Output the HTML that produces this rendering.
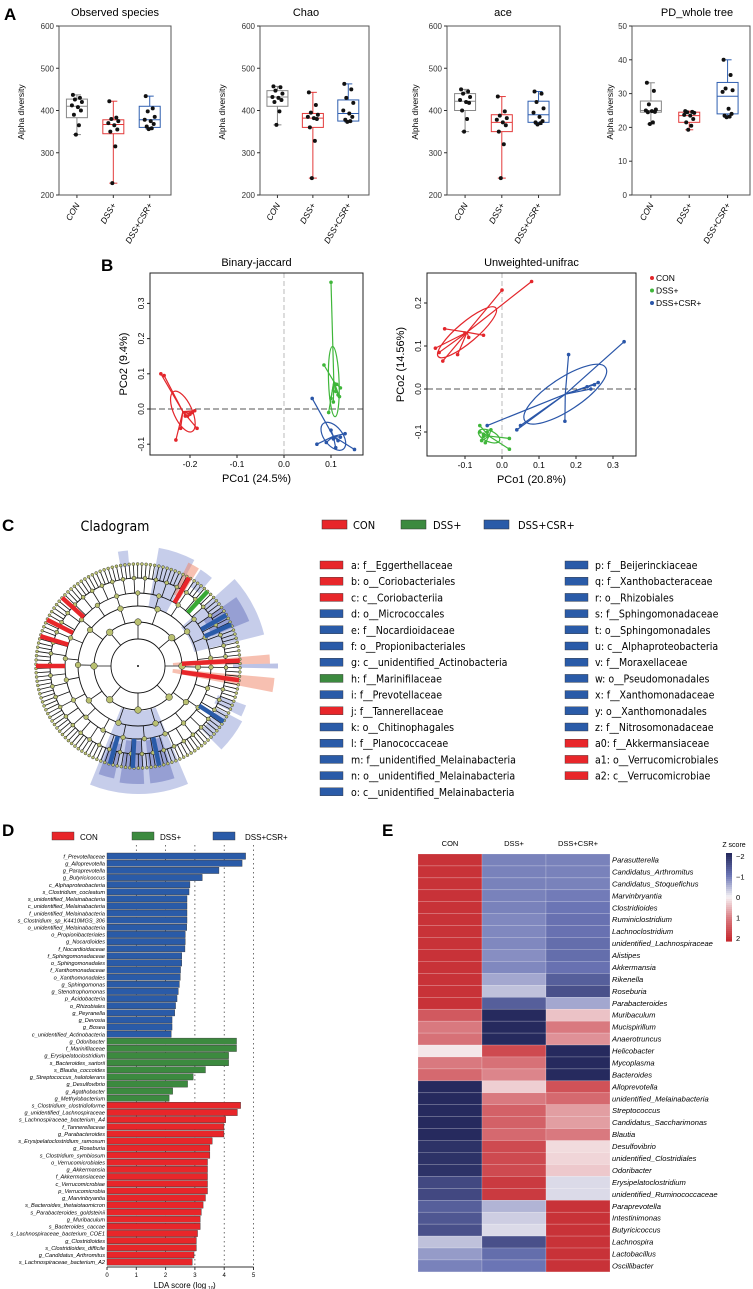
<!DOCTYPE html>
<html><head><meta charset="utf-8"><style>
html,body{margin:0;padding:0;background:#fff;}
svg{display:block;}
text{font-family:"Liberation Sans",sans-serif;}
.cl{font-family:"DejaVu Sans Condensed","DejaVu Sans","Liberation Sans",sans-serif;}
</style></head><body>
<svg id="fig" xmlns="http://www.w3.org/2000/svg" width="753" height="1289" viewBox="0 0 753 1289">
<text x="4" y="20" font-size="17" font-weight="bold">A</text>
<text x="101" y="271" font-size="17" font-weight="bold">B</text>
<text x="2" y="531" font-size="17" font-weight="bold">C</text>
<text x="2" y="836" font-size="17" font-weight="bold">D</text>
<text x="382" y="836" font-size="17" font-weight="bold">E</text>
<g id="gA"></g>
<g id="gB"></g>
<g id="gC"></g>
<g id="gD"></g>
<g id="gE"></g>
</svg>
<script>
// ===== Panel A data =====
const aTitles=["Observed  species","Chao","ace","PD_whole  tree"];
const aGroups=["CON","DSS+","DSS+CSR+"];
const aMin=[200,200,200,0];
const aMax=[600,600,600,50];
const aTicks=[[200,300,400,500,600],[200,300,400,500,600],[200,300,400,500,600],[0,10,20,30,40,50]];
const obsPts=[[437,430,426,420,412,408,400,390,365,343],[422,383,380,375,370,365,355,350,315,228],[434,405,398,385,378,375,368,362,358,356]];
const chaoPts=[[457,455,447,440,432,430,425,420,398,366],[443,413,395,390,385,382,380,360,328,240],[463,450,430,418,400,393,385,378,375,373]];
const acePts=[[450,445,440,432,425,420,418,400,380,350],[433,398,388,382,378,372,365,350,320,240],[445,440,420,405,395,385,375,372,370,367]];
const pdPts=[[33.2,30.8,26.8,25.3,25,24.8,24.6,24.5,21.5,21],[24.8,24.6,24.5,24.3,23.7,23.5,22.5,21.5,20.5,19.3],[40,35.5,31.5,31,30.5,25.5,24,23.5,23.2,23]];
// box stats [q1, median, q3]
const obsBox=[[383,410,427],[345,367,378],[360,378,410]];
const chaoBox=[[410,432,447],[360,382,393],[375,393,425]];
const aceBox=[[400,422,440],[350,372,390],[372,390,422]];
const pdBox=[[24.5,25,27.8],[21.5,23.5,24.5],[24,29.2,33.3]];
const aPts=[obsPts,chaoPts,acePts,pdPts];
const aBox=[obsBox,chaoBox,aceBox,pdBox];

// ===== Panel B data =====
const bjCON=[[-0.262,0.10],[-0.255,0.095],[-0.23,-0.088],[-0.22,-0.055],[-0.21,-0.02],[-0.20,-0.015],[-0.195,-0.01],[-0.19,-0.005],[-0.185,-0.055],[-0.205,-0.02]];
const bjDSS=[[0.10,0.36],[0.085,0.125],[0.11,0.05],[0.12,0.06],[0.115,0.04],[0.105,0.02],[0.10,0.03],[0.095,-0.01],[0.112,0.07],[0.118,0.035]];
const bjCSR=[[0.06,0.03],[0.07,-0.10],[0.09,-0.095],[0.11,-0.11],[0.15,-0.115],[0.12,-0.08],[0.13,-0.07],[0.10,-0.06],[0.115,-0.09],[0.105,-0.085]];
const uuCON=[[0.08,0.25],[0.0,0.23],[-0.16,0.065],[-0.17,0.085],[-0.18,0.095],[-0.155,0.14],[-0.12,0.08],[-0.05,0.125],[-0.10,0.13],[-0.09,0.12]];
const uuDSS=[[-0.06,-0.085],[-0.05,-0.11],[-0.055,-0.12],[-0.04,-0.1],[0.02,-0.14],[0.02,-0.115],[-0.045,-0.125],[-0.05,-0.105],[-0.03,-0.095],[-0.06,-0.10]];
const uuCSR=[[0.33,0.11],[0.18,0.08],[0.17,-0.075],[0.26,0.015],[0.25,0.01],[-0.04,-0.085],[0.04,-0.095],[0.05,-0.085],[0.24,0.0],[0.23,0.005]];
const bjXTicks=[-0.2,-0.1,0.0,0.1];
const bjYTicks=[-0.1,0.0,0.1,0.2,0.3];
const uuXTicks=[-0.1,0.0,0.1,0.2,0.3];
const uuYTicks=[-0.1,0.0,0.1,0.2];

// ===== Panel D data =====
const ldaNames=["f_Prevotellaceae","g_Alloprevotella","g_Paraprevotella","g_Butyricicoccus","c_Alphaproteobacteria","s_Clostridium_cocleatum","s_unidentified_Melainabacteria","c_unidentified_Melainabacteria","f_unidentified_Melainabacteria","s_Clostridium_sp_K4410MGS_306","o_unidentified_Melainabacteria","o_Propionibacteriales","g_Nocardioides","f_Nocardioidaceae","f_Sphingomonadaceae","o_Sphingomonadales","f_Xanthomonadaceae","o_Xanthomonadales","g_Sphingomonas","g_Stenotrophomonas","p_Acidobacteria","o_Rhizobiales","g_Peyranella","g_Devosia","g_Bosea","c_unidentified_Actinobacteria",
"g_Odoribacter","f_Marinifilaceae","g_Erysipelatoclostridium","s_Bacteroides_sartorii","s_Blautia_coccoides","g_Streptococcus_halotolerans","g_Desulfovibrio","g_Agathobacter","g_Methylobacterium",
"s_Clostridium_clostridioforme","g_unidentified_Lachnospiraceae","s_Lachnospiraceae_bacterium_A4","f_Tannerellaceae","g_Parabacteroides","s_Erysipelatoclostridium_ramosum","g_Roseburia","s_Clostridium_symbiosum","o_Verrucomicrobiales","g_Akkermansia","f_Akkermansiaceae","c_Verrucomicrobiae","p_Verrucomicrobia","g_Marvinbryantia","s_Bacteroides_thetaiotaomicron","s_Parabacteroides_goldsteinii","g_Muribaculum","s_Bacteroides_caccae","s_Lachnospiraceae_bacterium_COE1","g_Clostridioides","s_Clostridioides_difficile","g_Candidatus_Arthromitus","s_Lachnospiraceae_bacterium_A2"];
const ldaValues=[4.73,4.61,3.82,3.25,2.83,2.80,2.73,2.73,2.73,2.73,2.72,2.67,2.67,2.66,2.55,2.55,2.51,2.50,2.47,2.43,2.39,2.34,2.31,2.22,2.22,2.19,
4.42,4.42,4.15,4.15,3.36,2.94,2.75,2.24,2.12,
4.56,4.45,4.05,3.99,3.99,3.59,3.51,3.51,3.43,3.43,3.43,3.43,3.43,3.36,3.28,3.22,3.18,3.18,3.09,3.05,3.05,2.97,2.91];
const ldaGroup=[2,2,2,2,2,2,2,2,2,2,2,2,2,2,2,2,2,2,2,2,2,2,2,2,2,2,1,1,1,1,1,1,1,1,1,0,0,0,0,0,0,0,0,0,0,0,0,0,0,0,0,0,0,0,0,0,0,0];
const ldaTicks=[0,1,2,3,4,5];

// ===== Panel E data =====
const hmCols=["CON","DSS+","DSS+CSR+"];
const hmRows=["Parasutterella","Candidatus_Arthromitus","Candidatus_Stoquefichus","Marvinbryantia","Clostridioides","Ruminiclostridium","Lachnoclostridium","unidentified_Lachnospiraceae","Alistipes","Akkermansia","Rikenella","Roseburia","Parabacteroides","Muribaculum","Mucispirillum","Anaerotruncus","Helicobacter","Mycoplasma","Bacteroides","Alloprevotella","unidentified_Melainabacteria","Streptococcus","Candidatus_Saccharimonas","Blautia","Desulfovibrio","unidentified_Clostridiales","Odoribacter","Erysipelatoclostridium","unidentified_Ruminococcaceae","Paraprevotella","Intestinimonas","Butyricicoccus","Lachnospira","Lactobacillus","Oscillibacter"];
const hmCON=[1.9,1.9,1.9,1.9,1.9,1.9,1.9,1.9,1.9,1.9,1.9,1.9,1.9,1.4,1.0,1.1,0.1,1.0,1.2,-2,-2,-2,-2,-2,-1.9,-1.9,-1.9,-1.6,-1.6,-1.3,-1.4,-1.5,-0.4,-0.7,-0.9];
const hmDSS=[-0.9,-0.9,-0.9,-0.9,-0.9,-0.85,-0.85,-0.85,-0.8,-0.85,-0.6,-0.4,-1.3,-2,-2,-2,1.6,1.1,0.9,0.3,1.0,1.3,1.3,1.2,1.6,1.6,1.6,1.8,1.8,-0.5,-0.3,-0.2,-1.5,-1.1,-1.0];
const hmCSR=[-0.9,-0.9,-0.9,-0.95,-1.0,-1.05,-1.05,-1.1,-1.1,-1.05,-1.3,-1.5,-0.6,0.4,1.0,0.8,-2,-2,-2,1.5,1.2,0.7,0.7,1.0,0.2,0.25,0.35,-0.2,-0.2,1.9,1.9,1.9,1.9,1.9,1.9];
const zTicks=[-2,-1,0,1,2];

// ===== helpers =====
const NS="http://www.w3.org/2000/svg";
function mk(tag,attrs,parent,txt){const e=document.createElementNS(NS,tag);for(const k in attrs)e.setAttribute(k,attrs[k]);if(txt!==undefined)e.textContent=txt;parent.appendChild(e);return e;}
const boxColor=["#888888","#e33a3a","#2f5fb0"];
let el;

// ===== Panel A =====
const gA=document.getElementById('gA');
const aLeft=[59,260,447,632], aRight=[171,369,560,750], aTop=26, aBot=195;
const aTitleX=[115,306,503,697], aYLabX=[24,225,418,613];
const jit=[-4,3,-2,5,-5,1,4,-3,2,-1];
for(let p=0;p<4;p++){
  const y=v=>aBot-(v-aMin[p])/(aMax[p]-aMin[p])*(aBot-aTop);
  const L=aLeft[p],R=aRight[p],W=R-L;
  el=mk('text',{x:aTitleX[p],y:16,'font-size':11,'text-anchor':'middle'},gA,aTitles[p]);
  
  
  el=mk('rect',{x:L,y:aTop,width:W,height:aBot-aTop,fill:'none',stroke:'#555','stroke-width':1},gA);
  
  
  el=mk('text',{x:aYLabX[p],y:112,'font-size':8.5,'text-anchor':'middle',transform:`rotate(-90 ${aYLabX[p]} 112)`},gA,'Alpha diversity');
  
  
  aTicks[p].forEach(t=>{
    el=mk('line',{x1:L-3,x2:L,y1:y(t),y2:y(t),stroke:'#333'},gA);
    
    
    el=mk('text',{x:L-5,y:y(t)+3,'font-size':8,'text-anchor':'end',fill:'#333'},gA,String(t));
    
    
  });
  for(let g=0;g<3;g++){
    const cx=L+W*(0.16+0.325*g), bw=10.5;
    const pts=aPts[p][g], bx=aBox[p][g];
    const mn=Math.min(...pts), mx=Math.max(...pts);
    el=mk('line',{x1:cx,x2:cx,y1:y(mx),y2:y(mn),stroke:boxColor[g],'stroke-width':1},gA);
    
    
    [mn,mx].forEach(v=>{el=mk('line',{x1:cx-4,x2:cx+4,y1:y(v),y2:y(v),stroke:boxColor[g]},gA);
      
      });
    el=mk('rect',{x:cx-bw,y:y(bx[2]),width:2*bw,height:y(bx[0])-y(bx[2]),fill:'#fff',stroke:boxColor[g],'stroke-width':1},gA);
    
    
    el=mk('line',{x1:cx-bw,x2:cx+bw,y1:y(bx[1]),y2:y(bx[1]),stroke:boxColor[g]},gA);
    
    
    pts.forEach((v,i)=>{el=mk('circle',{cx:cx+jit[i],cy:y(v),r:2,fill:'#111'},gA);
      
      });
    el=mk('line',{x1:cx,x2:cx,y1:aBot,y2:aBot+3,stroke:'#333'},gA);
    
    
    el=mk('text',{x:cx+3,y:aBot+10,'font-size':8.5,'font-style':'italic','text-anchor':'end',transform:`rotate(-60 ${cx+3} ${aBot+10})`},gA,aGroups[g]);
    
    
  }
}

// ===== Panel B =====
const gB=document.getElementById('gB');
const pcol=["#e3262b","#3fb63a","#2a56a8"];
function pcoa(cfg){
  const {L,R,T,B,x0,kx,y0,ky,xt,yt,sets,title,xl,yl,ylx}=cfg;
  const X=v=>x0+v*kx, Y=v=>y0-v*ky;
  el=mk('text',{x:(L+R)/2,y:T-7,'font-size':11,'text-anchor':'middle'},gB,title);
  
  
  el=mk('line',{x1:X(0),x2:X(0),y1:T,y2:B,stroke:'#aaa','stroke-dasharray':'5,3','stroke-width':0.8},gB);
  
  
  el=mk('line',{x1:L,x2:R,y1:Y(0),y2:Y(0),stroke:'#555','stroke-dasharray':'6,3','stroke-width':1},gB);
  
  
  sets.forEach((pts,g)=>{
    const px=pts.map(p=>X(p[0])),py=pts.map(p=>Y(p[1]));
    const n=pts.length, mx=px.reduce((a,b)=>a+b)/n, my=py.reduce((a,b)=>a+b)/n;
    let sxx=0,syy=0,sxy=0;
    for(let i=0;i<n;i++){sxx+=(px[i]-mx)**2;syy+=(py[i]-my)**2;sxy+=(px[i]-mx)*(py[i]-my);}
    sxx/=n;syy/=n;sxy/=n;
    const tr=(sxx+syy)/2, d=Math.sqrt(((sxx-syy)/2)**2+sxy*sxy);
    const l1=tr+d,l2=tr-d, ang=Math.atan2(l1-sxx,sxy||1e-9)*180/Math.PI;
    el=mk('ellipse',{cx:mx,cy:my,rx:Math.sqrt(Math.max(l1,1))*1.0,ry:Math.sqrt(Math.max(l2,1))*1.1,transform:`rotate(${ang} ${mx} ${my})`,fill:'none',stroke:pcol[g],'stroke-width':1.2},gB);
    
    
    for(let i=0;i<n;i++){
      el=mk('line',{x1:mx,y1:my,x2:px[i],y2:py[i],stroke:pcol[g],'stroke-width':1.2},gB);
      
      
      el=mk('circle',{cx:px[i],cy:py[i],r:1.8,fill:pcol[g]},gB);
      
      
    }
  });
  el=mk('rect',{x:L,y:T,width:R-L,height:B-T,fill:'none',stroke:'#222','stroke-width':1},gB);
  
  
  xt.forEach(t=>{
    el=mk('line',{x1:X(t),x2:X(t),y1:B,y2:B+3,stroke:'#222'},gB);
    
    
    el=mk('text',{x:X(t),y:B+12,'font-size':8.5,'text-anchor':'middle'},gB,t.toFixed(1));
    
    
  });
  yt.forEach(t=>{
    el=mk('line',{x1:L-3,x2:L,y1:Y(t),y2:Y(t),stroke:'#222'},gB);
    
    
    el=mk('text',{x:L-6,y:Y(t),'font-size':8.5,'text-anchor':'middle',transform:`rotate(-90 ${L-6} ${Y(t)})`},gB,t.toFixed(1));
    
    
  });
  el=mk('text',{x:(L+R)/2,y:B+27,'font-size':11,'text-anchor':'middle'},gB,xl);
  
  
  const cy=(T+B)/2;
  el=mk('text',{x:ylx,y:cy,'font-size':11,'text-anchor':'middle',transform:`rotate(-90 ${ylx} ${cy})`},gB,yl);
  
  
}
pcoa({L:150,R:363,T:273,B:455,x0:284,kx:470,y0:409,ky:352,xt:bjXTicks,yt:bjYTicks,sets:[bjCON,bjDSS,bjCSR],title:'Binary-jaccard',xl:'PCo1 (24.5%)',yl:'PCo2 (9.4%)',ylx:127});
pcoa({L:427,R:636,T:273,B:456,x0:502,kx:370,y0:389,ky:430,xt:uuXTicks,yt:uuYTicks,sets:[uuCON,uuDSS,uuCSR],title:'Unweighted-unifrac',xl:'PCo1 (20.8%)',yl:'PCo2 (14.56%)',ylx:404});
["CON","DSS+","DSS+CSR+"].forEach((s,g)=>{
  el=mk('circle',{cx:652,cy:278+g*12.5,r:2,fill:pcol[g]},gB);
  
  
  el=mk('text',{x:656,y:281+g*12.5,'font-size':8.5},gB,s);
  
  
});

// ===== Panel C =====
const gC=document.getElementById('gC');
el=mk('text',{x:115,y:531,'font-size':14,'text-anchor':'middle',class:'cl'},gC,'Cladogram');


const CX=138,CY=666;
function pol(r,a){const t=a*Math.PI/180;return [CX+r*Math.cos(t),CY+r*Math.sin(t)];}
function wedge(a1,a2,r1,r2,fill){
  const p1=pol(r2,a1),p2=pol(r2,a2),p3=pol(r1,a2),p4=pol(r1,a1),lg=(a2-a1)>180?1:0;
  return mk('path',{d:`M${p1}A${r2},${r2} 0 ${lg} 1 ${p2}L${p3}A${r1},${r1} 0 ${lg} 0 ${p4}Z`,fill:fill},gC);
}
const lb='rgba(120,135,205,0.42)', db='rgba(90,105,185,0.45)', rs='rgba(240,130,100,0.5)';
[[67,112,45,128,lb],[72,84,75,118,db],[87,99,75,118,db],[102,110,80,115,db],[-42,-14,58,130,lb],[-35,-22,80,120,db],[-80,-62,60,120,lb],[-100,-95,100,116,lb],[20,26,85,115,lb],[28,45,90,118,lb],[-57,-50,95,115,lb],[-5,-1,35,132,rs],[5,11,35,137,rs],[-64,-58,80,115,rs],[-1,1,95,140,'rgba(120,135,205,0.5)']].forEach(w=>{
  el=wedge(w[0],w[1],w[2],w[3],w[4]);
  
  
});
[27,44,60,73,88].forEach(r=>{
  el=mk('circle',{cx:CX,cy:CY,r:r,fill:'none',stroke:'#111','stroke-width':0.9},gC);
  
  
});
const NT=150;
for(let i=0;i<NT;i++){
  const a=i*360/NT+1;
  const p1=pol(88,a),p2=pol(102,a);
  el=mk('line',{x1:p1[0],y1:p1[1],x2:p2[0],y2:p2[1],stroke:'#111','stroke-width':0.8},gC);
  
  
  el=mk('circle',{cx:p2[0],cy:p2[1],r:1.5,fill:'#b9c070',stroke:'#222','stroke-width':0.4},gC);
  
  
  if(i%3===0){const q1=pol(73,a),q2=pol(88,a);
    el=mk('line',{x1:q1[0],y1:q1[1],x2:q2[0],y2:q2[1],stroke:'#111','stroke-width':0.8},gC);
    
    
    el=mk('circle',{cx:q2[0],cy:q2[1],r:2,fill:'#b9c070',stroke:'#222','stroke-width':0.5},gC);
    
    }
  if(i%7===0){const q1=pol(60,a),q2=pol(73,a);
    el=mk('line',{x1:q1[0],y1:q1[1],x2:q2[0],y2:q2[1],stroke:'#111','stroke-width':0.8},gC);
    
    
    el=mk('circle',{cx:q2[0],cy:q2[1],r:2.3,fill:'#b9c070',stroke:'#222','stroke-width':0.5},gC);
    
    }
  if(i%15===0){const q1=pol(44,a),q2=pol(60,a);
    el=mk('line',{x1:q1[0],y1:q1[1],x2:q2[0],y2:q2[1],stroke:'#111','stroke-width':0.8},gC);
    
    
    el=mk('circle',{cx:q2[0],cy:q2[1],r:2.8,fill:'#b9c070',stroke:'#222','stroke-width':0.5},gC);
    
    }
}
[180,-90,90,0,-40,45,130,230].forEach((a,i)=>{
  const q1=pol(27,a),q2=pol(44,a);
  el=mk('line',{x1:q1[0],y1:q1[1],x2:q2[0],y2:q2[1],stroke:'#111','stroke-width':0.8},gC);
  
  
  el=mk('circle',{cx:q2[0],cy:q2[1],r:3.3,fill:'#b9c070',stroke:'#222','stroke-width':0.5},gC);
  
  
});
[[180,'#e8262a'],[197,'#e8262a'],[207,'#e8262a'],[222,'#e8262a'],[-3,'#e8262a'],[8,'#e8262a'],[-60,'#e8262a'],[-47,'#39a935'],[-30,'#2a5ba8'],[-24,'#2a5ba8'],[33,'#2a5ba8'],[78,'#2a5ba8'],[93,'#2a5ba8'],[106,'#2a5ba8']].forEach(c=>{
  const q1=pol(c[0]===-3||c[0]===8?44:73,c[0]),q2=pol(102,c[0]);
  el=mk('line',{x1:q1[0],y1:q1[1],x2:q2[0],y2:q2[1],stroke:c[1],'stroke-width':4.5},gC);
  
  
});
el=mk('circle',{cx:CX,cy:CY,r:1,fill:'#111'},gC);


const swc=["#e8262a","#3c8a3f","#2a5ba8"];
const cLegX=[322,401,484], cLegTX=[353,433,518];
["CON","DSS+","DSS+CSR+"].forEach((s,g)=>{
  el=mk('rect',{x:cLegX[g],y:520,width:25,height:9,fill:swc[g],stroke:'#333','stroke-width':0.5},gC);
  
  
  el=mk('text',{x:cLegTX[g],y:529,'font-size':11,class:'cl'},gC,s);
  
  
});
const cladeL=["a: f__Eggerthellaceae","b: o__Coriobacteriales","c: c__Coriobacteriia","d: o__Micrococcales","e: f__Nocardioidaceae","f: o__Propionibacteriales","g: c__unidentified_Actinobacteria","h: f__Marinifilaceae","i: f__Prevotellaceae","j: f__Tannerellaceae","k: o__Chitinophagales","l: f__Planococcaceae","m: f__unidentified_Melainabacteria","n: o__unidentified_Melainabacteria","o: c__unidentified_Melainabacteria"];
const cladeLG=[0,0,0,2,2,2,2,1,2,0,2,2,2,2,2];
const cladeR=["p: f__Beijerinckiaceae","q: f__Xanthobacteraceae","r: o__Rhizobiales","s: f__Sphingomonadaceae","t: o__Sphingomonadales","u: c__Alphaproteobacteria","v: f__Moraxellaceae","w: o__Pseudomonadales","x: f__Xanthomonadaceae","y: o__Xanthomonadales","z: f__Nitrosomonadaceae","a0: f__Akkermansiaceae","a1: o__Verrucomicrobiales","a2: c__Verrucomicrobiae"];
const cladeRG=[2,2,2,2,2,2,2,2,2,2,2,0,0,0];
function cladeList(names,grps,rx,tx){
  names.forEach((s,i)=>{const y=565+i*16.2;
    el=mk('rect',{x:rx,y:y-4,width:23,height:8,fill:swc[grps[i]],stroke:'#333','stroke-width':0.4},gC);
    
    
    el=mk('text',{x:tx,y:y+4,'font-size':10.5,class:'cl'},gC,s);
    
    
  });
}
cladeList(cladeL,cladeLG,320,351);
cladeList(cladeR,cladeRG,565,595);

// ===== Panel D =====
const gD=document.getElementById('gD');
const dx0=107,dk=29.3,dy0=853,dstep=7.12;
const DX=v=>dx0+v*dk;
const dLegX=[52,132,213],dLegTX=[80,160,245];
["CON","DSS+","DSS+CSR+"].forEach((s,g)=>{
  el=mk('rect',{x:dLegX[g],y:832,width:22,height:8,fill:swc[g],stroke:'#333','stroke-width':0.4},gD);
  
  
  el=mk('text',{x:dLegTX[g],y:840,'font-size':8},gD,s);
  
  
});
const dBot=dy0+ldaNames.length*dstep+1;
ldaTicks.forEach(t=>{
  if(t>0){el=mk('line',{x1:DX(t),x2:DX(t),y1:dy0-8,y2:dBot,stroke:'#333','stroke-width':0.7,'stroke-dasharray':'1.5,3'},gD);
  
  }
  el=mk('line',{x1:DX(t),x2:DX(t),y1:dBot,y2:dBot+3,stroke:'#333'},gD);
  
  
  el=mk('text',{x:DX(t),y:dBot+10,'font-size':6,'text-anchor':'middle'},gD,String(t));
  
  
});
ldaNames.forEach((s,i)=>{
  const y=dy0+i*dstep;
  el=mk('rect',{x:dx0,y:y,width:ldaValues[i]*dk,height:6.3,fill:swc[ldaGroup[i]],stroke:'#333','stroke-width':0.4},gD);
  
  
  el=mk('text',{x:dx0-2,y:y+5.3,'font-size':5.6,'font-style':'italic','text-anchor':'end'},gD,s);
  
  
});
el=mk('line',{x1:dx0,x2:DX(5),y1:dBot,y2:dBot,stroke:'#333'},gD);


el=mk('text',{x:180,y:dBot+21,'font-size':8,'text-anchor':'middle'},gD,'LDA score (log');


el=mk('text',{x:208,y:dBot+23,'font-size':5},gD,'10');


el=mk('text',{x:213,y:dBot+21,'font-size':8},gD,')');



// ===== Panel E =====
const gE=document.getElementById('gE');
const stops=[[-2,[38,42,94]],[-1,[107,117,181]],[0,[247,243,245]],[1,[217,121,127]],[2,[198,42,48]]];
function zcol(z){z=Math.max(-2,Math.min(2,z));for(let i=0;i<4;i++){const a=stops[i],b=stops[i+1];if(z<=b[0]){const t=(z-a[0])/(b[0]-a[0]);const c=a[1].map((v,k)=>Math.round(v+(b[1][k]-v)*t));return `rgb(${c})`;}}return 'rgb(198,42,48)';}
const hx0=418,hcw=64,hy0=854,hrh=11.94;
const hmData=[hmCON,hmDSS,hmCSR];
hmCols.forEach((c,j)=>{
  el=mk('text',{x:hx0+hcw*(j+0.5),y:846,'font-size':7.5,'text-anchor':'middle'},gE,c);
  
  
  hmData[j].forEach((z,i)=>{
    el=mk('rect',{x:hx0+j*hcw,y:hy0+i*hrh,width:hcw,height:hrh,fill:zcol(z),stroke:'rgba(255,255,255,0.35)','stroke-width':0.5},gE);
    
    
  });
});
hmRows.forEach((s,i)=>{
  el=mk('text',{x:612,y:hy0+i*hrh+8.5,'font-size':7.6,'font-style':'italic'},gE,s);
  
  
});
const cbT=853,cbB=941,cbX=726;
for(let k=0;k<44;k++){const z=-2+4*k/43;
  el=mk('rect',{x:cbX,y:cbT+(cbB-cbT)*k/44,width:6,height:(cbB-cbT)/44+0.6,fill:zcol(z)},gE);
  
  }
zTicks.forEach(t=>{
  const y=cbT+3+(t+2)/4*(cbB-cbT-6);
  el=mk('text',{x:736,y:y+3,'font-size':7.5},gE,t<0?'\u2212'+(-t):String(t));
  
  
});
el=mk('text',{x:734,y:847,'font-size':7,'text-anchor':'middle'},gE,'Z score');


</script>
</body></html>
